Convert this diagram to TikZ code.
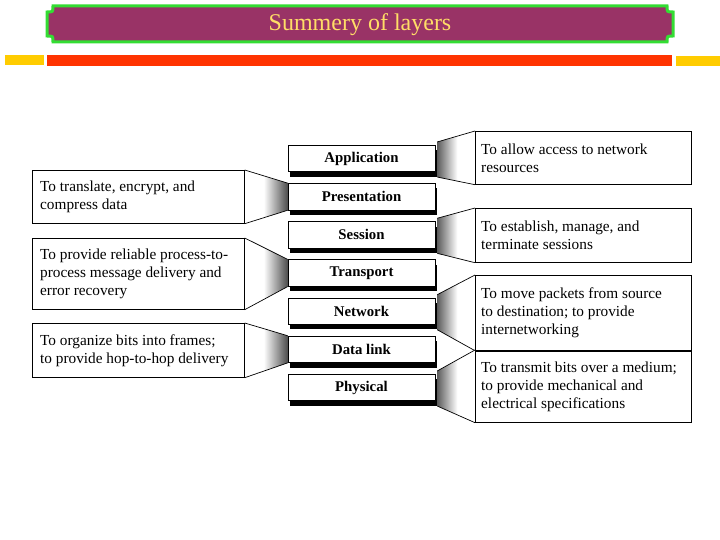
\documentclass[tikz,border=0pt]{standalone}
\usepackage{fontspec}
\setmainfont{Liberation Serif}
\usetikzlibrary{shadows,backgrounds,calc}
\definecolor{banner}{HTML}{993366}
\definecolor{bgreen}{HTML}{33DD33}
\definecolor{tyellow}{HTML}{FFDD66}
\definecolor{bred}{HTML}{FF3300}
\definecolor{byellow}{HTML}{FFCC00}
\newcommand\myfunL[2]{%
  \begin{pgfonlayer}{background}
    \fill[white] (#1.north east) -- (#2.north west) -- (#2.south west) -- (#1.south east) -- cycle;
    \begin{scope}
      \clip (#1.north east) -- (#2.north west) -- (#2.south west) -- (#1.south east) -- cycle;
      \shade[left color=white, right color=black!70] ($(#2.west)+(-24,-40)$) rectangle ($(#2.west)+(0,40)$);
    \end{scope}
    \draw[line width=0.7pt] (#1.north east) -- (#2.north west) (#1.south east) -- (#2.south west);
  \end{pgfonlayer}}
\newcommand\myfunR[2]{%
  \begin{pgfonlayer}{background}
    \coordinate (#1a) at ($(#1.north east)+(2,-3)$);
    \coordinate (#1b) at ($(#1.south east)+(2,5)$);
    \fill[white] (#1a) -- (#2.north west) -- (#2.south west) -- (#1b) -- cycle;
    \begin{scope}
      \clip (#1a) -- (#2.north west) -- (#2.south west) -- (#1b) -- cycle;
      \shade[left color=black!70, right color=white] ($(#1.east)+(0,-40)$) rectangle ($(#1.east)+(22,40)$);
    \end{scope}
    \draw[line width=0.7pt] (#1a) -- (#2.north west) (#1b) -- (#2.south west);
  \end{pgfonlayer}}
\begin{document}
\begin{tikzpicture}[x=1pt,y=-1pt,
  layer/.style={draw=black, line width=0.6pt, fill=white, minimum width=147pt,
    minimum height=26.5pt, inner sep=0pt, font=\fontsize{14.8}{16}\selectfont\bfseries,
    drop shadow={shadow xshift=2pt,shadow yshift=-5pt,fill=black,opacity=1}},
  dbox/.style={draw=black, line width=0.7pt, fill=white, inner sep=0pt, anchor=north west},
  dtext/.style={anchor=west, align=left, inner sep=0pt, font=\fontsize{15.3}{18}\selectfont},
]
\useasboundingbox (0,0) rectangle (720,540);
\begin{pgfonlayer}{background}
\fill[white] (0,0) rectangle (720,540);
\end{pgfonlayer}

% banner
\filldraw[fill=banner, draw=bgreen, line width=3pt]
  (53,6) -- (667,6) .. controls (667,12) .. (673,12) -- (673,36)
  .. controls (667,36) .. (667,42) -- (53,42) .. controls (53,36) .. (47,36)
  -- (47,12) .. controls (53,12) .. (53,6) -- cycle;
\node[text=tyellow, font=\fontsize{24}{28}\selectfont, inner sep=0pt] (title) at (360,25) {Summery of layers};

% bars
\fill[byellow] (5,55) rectangle (44,65);
\fill[bred] (47,55) rectangle (672,66);
\fill[byellow] (676,56) rectangle (720,66);

% layers
\node[layer] (L1) at (361.5,158.5) {Application};
\node[layer] (L2) at (361.5,196.7) {Presentation};
\node[layer] (L3) at (361.5,234.8) {Session};
\node[layer] (L4) at (361.5,273.0) {Transport};
\node[layer] (L5) at (361.5,311.2) {Network};
\node[layer] (L6) at (361.5,349.3) {Data link};
\node[layer] (L7) at (361.5,387.5) {Physical};

% left descriptions
\node[dbox, minimum width=212pt, minimum height=53pt] (D2) at (32,170) {};
\node[dtext] (T2) at ([xshift=8pt]D2.west) {To translate, encrypt, and\\compress data};
\node[dbox, minimum width=212pt, minimum height=71pt] (D4) at (32,238) {};
\node[dtext] (T4) at ([xshift=8pt]D4.west) {To provide reliable process-to-\\process message delivery and\\error recovery};
\node[dbox, minimum width=212pt, minimum height=54pt] (D6) at (32,323) {};
\node[dtext] (T6) at ([xshift=8pt]D6.west) {To organize bits into frames;\\to provide hop-to-hop delivery};

% right descriptions
\node[dbox, minimum width=216pt, minimum height=53pt] (D1) at (475,131) {};
\node[dtext] (T1) at ([xshift=6pt]D1.west) {To allow access to network\\resources};
\node[dbox, minimum width=216pt, minimum height=54pt] (D3) at (475,208) {};
\node[dtext] (T3) at ([xshift=6pt]D3.west) {To establish, manage, and\\terminate sessions};
\node[dbox, minimum width=216pt, minimum height=75pt] (D5) at (475,275) {};
\node[dtext] (T5) at ([xshift=6pt]D5.west) {To move packets from source\\to destination; to provide\\internetworking};
\node[dbox, minimum width=216pt, minimum height=72pt] (D7) at (475,350) {};
\node[dtext] (T7) at ([xshift=6pt]D7.west) {To transmit bits over a medium;\\to provide mechanical and\\electrical specifications};
\draw[line width=1.8pt] (D5.south west) -- (D5.south east);

% funnels
\myfunL{D2}{L2}
\myfunL{D4}{L4}
\myfunL{D6}{L6}
\myfunR{L1}{D1}
\myfunR{L3}{D3}
\myfunR{L5}{D5}
\myfunR{L7}{D7}
\end{tikzpicture}
\end{document}
